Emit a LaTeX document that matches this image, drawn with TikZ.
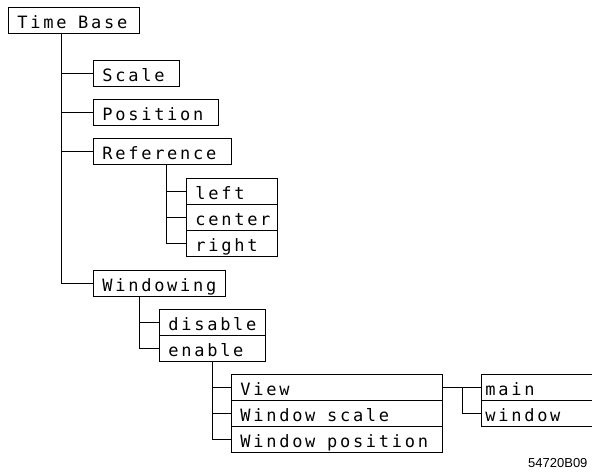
\documentclass[tikz,border=0pt]{standalone}
\usepackage{fontspec}
\usepackage{tikz}
\usetikzlibrary{positioning,calc}
\newfontfamily\menufont[LetterSpace=16]{DejaVu Sans Mono}
\setsansfont{Liberation Sans}
\newcommand\menutext{\menufont\fontsize{17}{20}\selectfont}
\newcommand\wsp{\hspace*{6pt}}

\begin{document}
\begin{tikzpicture}[
      x=1pt, y=-1pt,
      menubox/.style={rectangle, draw=black, line width=0.9pt, fill=white,
                      anchor=north west, minimum height=26pt,
                      inner xsep=9pt, inner ysep=0pt,
                      text height=18pt, text depth=2pt,
                      text width=#1, align=left, font=\menutext},
      conn/.style={draw=black, line width=0.9pt}
    ]
      \clip (0,0) rectangle (592,472);
      %% Top level
      \node[menubox=113pt] (timebase) at (8,7) {Time \wsp Base};
      \node[menubox=68pt]  (scale)     at (93,60)  {Scale};
      \node[menubox=107pt] (position)  at (93,99)  {Position};
      \node[menubox=120pt] (reference) at (93,138) {Reference};
      \node[menubox=114pt] (windowing) at (93,270) {Windowing};
      %% Reference choices
      \node[menubox=73pt] (left)   at (186,178) {left};
      \node[menubox=73pt] (center) at (186,204) {center};
      \node[menubox=73pt] (right)  at (186,230) {right};
      %% Windowing choices
      \node[menubox=88pt] (disable) at (159,309) {disable};
      \node[menubox=88pt] (enable)  at (159,335) {enable};
      %% Enable sub-menu
      \node[menubox=193pt] (view)   at (231,374) {View};
      \node[menubox=193pt] (wscale) at (231,400) {Window \wsp scale};
      \node[menubox=193pt] (wpos)   at (231,426) {Window \wsp position};
      %% View choices
      \node[menubox=120pt, inner xsep=4pt] (main)   at (481,374) {main};
      \node[menubox=120pt, inner xsep=4pt] (window) at (481,400) {window};
      %% Trunks
      \coordinate (tbtrunk)  at ([xshift=53pt]timebase.south west);
      \coordinate (reftrunk) at ([xshift=73pt]reference.south west);
      \coordinate (wintrunk) at ([xshift=46pt]windowing.south west);
      \coordinate (entrunk)  at ([xshift=53pt]enable.south west);
      \draw[conn] (tbtrunk) |- (windowing.west);
      \foreach \n in {scale,position,reference}
        \draw[conn] (tbtrunk |- \n.west) -- (\n.west);
      \draw[conn] (reftrunk) |- (right.west);
      \foreach \n in {left,center}
        \draw[conn] (reftrunk |- \n.west) -- (\n.west);
      \draw[conn] (wintrunk) |- (enable.west);
      \draw[conn] (wintrunk |- disable.west) -- (disable.west);
      \draw[conn] (entrunk) |- (wpos.west);
      \foreach \n in {view,wscale}
        \draw[conn] (entrunk |- \n.west) -- (\n.west);
      \draw[conn] (view.east) -- (main.west);
      \draw[conn] ($(view.east)!0.5!(main.west)$) |- (window.west);
      %% Figure code
      \node[font=\sffamily\fontsize{13}{15}\selectfont, anchor=base east]
            (figid) at (591,467) {54720B09};
    \end{tikzpicture}
\end{document}
